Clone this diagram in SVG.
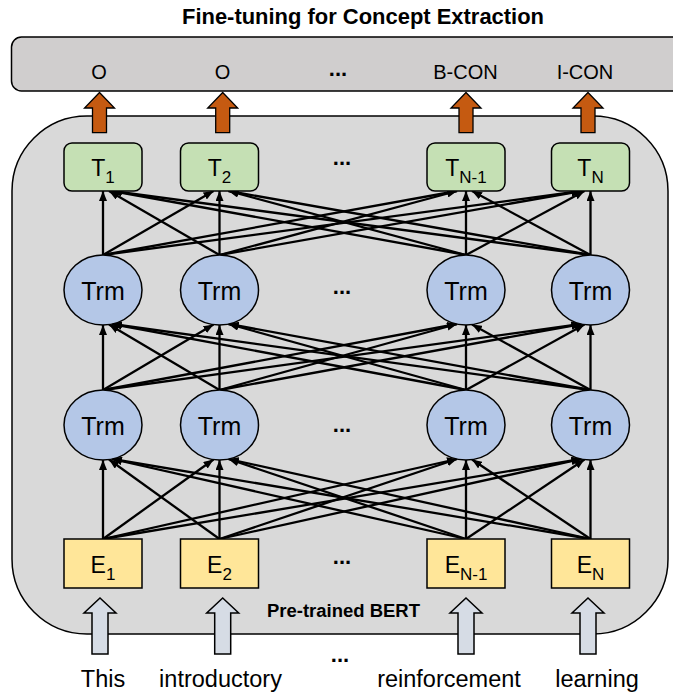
<svg xmlns="http://www.w3.org/2000/svg" width="673" height="694" viewBox="0 0 673 694">
<defs>
<style>
text{font-family:"Liberation Sans",Arial,sans-serif;fill:#000}
.box{stroke:#000;stroke-width:1.5}
.tb{fill:#c5e0b4;stroke:#000;stroke-width:1.5}
.eb{fill:#ffe699;stroke:#000;stroke-width:1.5}
.trm{fill:#b4c7e7;stroke:#000;stroke-width:1.5}
.oarr{fill:#c55a11;stroke:#000;stroke-width:1.3}
.iarr{fill:#d6dce5;stroke:#000;stroke-width:1.5}
.conn line{stroke:#000;stroke-width:2.3;marker-end:url(#ah)}
.lbl{font-size:20px;text-anchor:middle}
.word{font-size:23.5px;text-anchor:middle}
.trmt{font-size:25px;text-anchor:middle}
.tt{font-size:23px;text-anchor:middle}
.sub{font-size:17px}
.dots{font-size:22px;font-weight:bold;text-anchor:middle}
</style>
<marker id="ah" viewBox="0 0 10 8" refX="10" refY="4" markerWidth="10" markerHeight="8" markerUnits="userSpaceOnUse" orient="auto"><path d="M0,0 L10,4 L0,8 z" fill="#000"/></marker>
</defs>
<rect width="673" height="694" fill="#fff"/>

<text x="363" y="23.5" font-size="21.5" font-weight="bold" text-anchor="middle" textLength="362" lengthAdjust="spacingAndGlyphs">Fine-tuning for Concept Extraction</text>

<g id="bert-box">
<rect class="box" x="12" y="116" width="656" height="518" rx="75" ry="75" fill="#d9d9d9"/>
<text x="343.5" y="617" font-size="17.5" font-weight="bold" text-anchor="middle" textLength="153" lengthAdjust="spacingAndGlyphs">Pre-trained BERT</text>
</g>

<g id="output-box">
<rect class="box" x="11.5" y="37" width="690" height="54" rx="10" ry="10" fill="#d0cece"/>
<text class="lbl" x="99" y="79">O</text>
<text class="lbl" x="222.5" y="79">O</text>
<text class="dots" x="338" y="76">...</text>
<text class="lbl" x="465.5" y="79">B-CON</text>
<text class="lbl" x="585" y="79">I-CON</text>
</g>

<g id="output-arrows">
<polygon class="oarr" points="99.5,92.5 114.5,108 106.5,108 106.5,132.7 92.5,132.7 92.5,108 84.5,108"/>
<polygon class="oarr" points="222.7,92.5 237.7,108 229.7,108 229.7,132.7 215.7,132.7 215.7,108 207.7,108"/>
<polygon class="oarr" points="466,92.5 481,108 473,108 473,132.7 459,132.7 459,108 451,108"/>
<polygon class="oarr" points="588,92.5 603,108 595,108 595,132.7 581,132.7 581,108 573,108"/>
</g>

<g id="connectors" class="conn">
<line x1="103" y1="255" x2="103" y2="191"/>
<line x1="103" y1="255" x2="213.5" y2="191"/>
<line x1="103" y1="255" x2="457" y2="191"/>
<line x1="103" y1="255" x2="581.5" y2="191"/>
<line x1="219.5" y1="255" x2="109" y2="191"/>
<line x1="219.5" y1="255" x2="219.5" y2="191"/>
<line x1="219.5" y1="255" x2="457" y2="191"/>
<line x1="219.5" y1="255" x2="581.5" y2="191"/>
<line x1="466" y1="255" x2="112" y2="191"/>
<line x1="466" y1="255" x2="228.5" y2="191"/>
<line x1="466" y1="255" x2="466" y2="191"/>
<line x1="466" y1="255" x2="584.5" y2="191"/>
<line x1="590.5" y1="255" x2="112" y2="191"/>
<line x1="590.5" y1="255" x2="228.5" y2="191"/>
<line x1="590.5" y1="255" x2="472" y2="191"/>
<line x1="590.5" y1="255" x2="590.5" y2="191"/>

<line x1="103" y1="390" x2="103" y2="325"/>
<line x1="103" y1="390" x2="213.5" y2="324.5"/>
<line x1="103" y1="390" x2="457" y2="324"/>
<line x1="103" y1="390" x2="581.5" y2="324"/>
<line x1="219.5" y1="390" x2="109" y2="324.5"/>
<line x1="219.5" y1="390" x2="219.5" y2="325"/>
<line x1="219.5" y1="390" x2="457" y2="324"/>
<line x1="219.5" y1="390" x2="581.5" y2="324"/>
<line x1="466" y1="390" x2="112" y2="324"/>
<line x1="466" y1="390" x2="228.5" y2="324"/>
<line x1="466" y1="390" x2="466" y2="325"/>
<line x1="466" y1="390" x2="584.5" y2="324.5"/>
<line x1="590.5" y1="390" x2="112" y2="324"/>
<line x1="590.5" y1="390" x2="228.5" y2="324"/>
<line x1="590.5" y1="390" x2="472" y2="324.5"/>
<line x1="590.5" y1="390" x2="590.5" y2="325"/>

<line x1="103" y1="539" x2="103" y2="460"/>
<line x1="103" y1="539" x2="213.5" y2="459.5"/>
<line x1="103" y1="539" x2="457" y2="459"/>
<line x1="103" y1="539" x2="581.5" y2="459"/>
<line x1="219.5" y1="539" x2="109" y2="459.5"/>
<line x1="219.5" y1="539" x2="219.5" y2="460"/>
<line x1="219.5" y1="539" x2="457" y2="459"/>
<line x1="219.5" y1="539" x2="581.5" y2="459"/>
<line x1="466" y1="539" x2="112" y2="459"/>
<line x1="466" y1="539" x2="228.5" y2="459"/>
<line x1="466" y1="539" x2="466" y2="460"/>
<line x1="466" y1="539" x2="584.5" y2="459.5"/>
<line x1="590.5" y1="539" x2="112" y2="459"/>
<line x1="590.5" y1="539" x2="228.5" y2="459"/>
<line x1="590.5" y1="539" x2="472" y2="459.5"/>
<line x1="590.5" y1="539" x2="590.5" y2="460"/>
</g>

<g id="T1"><rect class="tb" x="64" y="143" width="78" height="48" rx="8"/><text class="tt" x="103" y="176">T<tspan class="sub" dy="7">1</tspan></text></g>
<g id="T2"><rect class="tb" x="180.5" y="143" width="78" height="48" rx="8"/><text class="tt" x="219.5" y="176">T<tspan class="sub" dy="7">2</tspan></text></g>
<g id="TN-1"><rect class="tb" x="427" y="143" width="78" height="48" rx="8"/><text class="tt" x="466" y="176">T<tspan class="sub" dy="7">N-1</tspan></text></g>
<g id="TN"><rect class="tb" x="551.5" y="143" width="78" height="48" rx="8"/><text class="tt" x="590.5" y="176">T<tspan class="sub" dy="7">N</tspan></text></g>
<text class="dots" x="342" y="165">...</text>

<g id="Trm1-1"><ellipse class="trm" cx="103" cy="290" rx="39" ry="35"/><text class="trmt" x="103" y="300">Trm</text></g>
<g id="Trm1-2"><ellipse class="trm" cx="219.5" cy="290" rx="39" ry="35"/><text class="trmt" x="219.5" y="300">Trm</text></g>
<g id="Trm1-N-1"><ellipse class="trm" cx="466" cy="290" rx="39" ry="35"/><text class="trmt" x="466" y="300">Trm</text></g>
<g id="Trm1-N"><ellipse class="trm" cx="590.5" cy="290" rx="39" ry="35"/><text class="trmt" x="590.5" y="300">Trm</text></g>
<text class="dots" x="342" y="293.5">...</text>

<g id="Trm2-1"><ellipse class="trm" cx="103" cy="425" rx="39" ry="35"/><text class="trmt" x="103" y="435">Trm</text></g>
<g id="Trm2-2"><ellipse class="trm" cx="219.5" cy="425" rx="39" ry="35"/><text class="trmt" x="219.5" y="435">Trm</text></g>
<g id="Trm2-N-1"><ellipse class="trm" cx="466" cy="425" rx="39" ry="35"/><text class="trmt" x="466" y="435">Trm</text></g>
<g id="Trm2-N"><ellipse class="trm" cx="590.5" cy="425" rx="39" ry="35"/><text class="trmt" x="590.5" y="435">Trm</text></g>
<text class="dots" x="342" y="432">...</text>

<g id="E1"><rect class="eb" x="64" y="539" width="78" height="49"/><text class="tt" x="103" y="573">E<tspan class="sub" dy="7">1</tspan></text></g>
<g id="E2"><rect class="eb" x="180.5" y="539" width="78" height="49"/><text class="tt" x="219.5" y="573">E<tspan class="sub" dy="7">2</tspan></text></g>
<g id="EN-1"><rect class="eb" x="427" y="539" width="78" height="49"/><text class="tt" x="466" y="573">E<tspan class="sub" dy="7">N-1</tspan></text></g>
<g id="EN"><rect class="eb" x="551.5" y="539" width="78" height="49"/><text class="tt" x="590.5" y="573">E<tspan class="sub" dy="7">N</tspan></text></g>
<text class="dots" x="342" y="563.5">...</text>

<g id="input-arrows">
<polygon class="iarr" points="100,598 116,613 108,613 108,654 92,654 92,613 84,613"/>
<polygon class="iarr" points="222.7,598 238.7,613 230.7,613 230.7,654 214.7,654 214.7,613 206.7,613"/>
<polygon class="iarr" points="466,598 482,613 474,613 474,654 458,654 458,613 450,613"/>
<polygon class="iarr" points="588,598 604,613 596,613 596,654 580,654 580,613 572,613"/>
</g>

<g id="inputs">
<text class="word" x="103" y="686.5">This</text>
<text class="word" x="220.5" y="686.5">introductory</text>
<text class="dots" x="340" y="662">...</text>
<text class="word" x="449" y="686.5">reinforcement</text>
<text class="word" x="597" y="686.5">learning</text>
</g>
</svg>
